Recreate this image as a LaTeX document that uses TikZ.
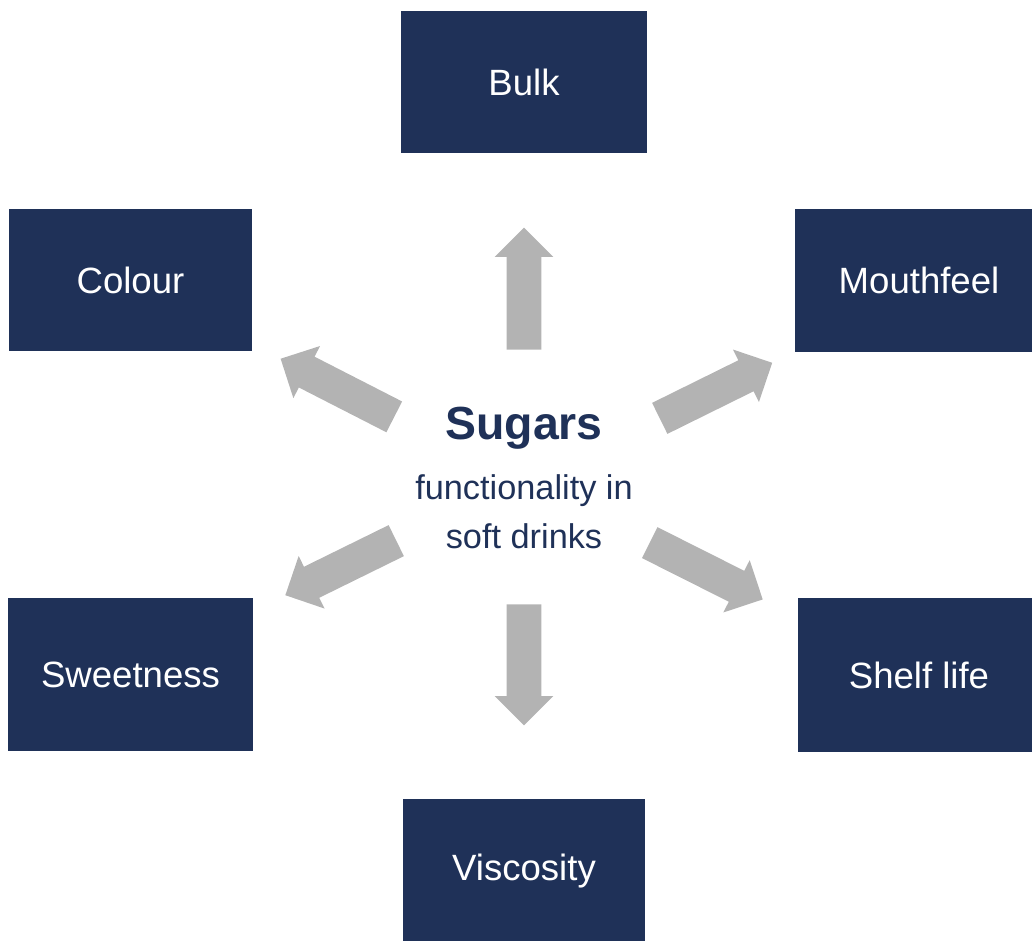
\documentclass[tikz,border=0pt]{standalone}
\usepackage{fontspec}
\setmainfont{Liberation Sans}
\usepackage{tikz}
\usetikzlibrary{shapes.arrows}
\definecolor{navy}{RGB}{31,49,88}
\definecolor{arrowgrey}{RGB}{179,179,179}
\tikzset{
	box/.style={fill=navy, text=white, inner sep=0pt, font=\fontsize{26}{30}\selectfont},
	grey arrow/.style={single arrow, fill=arrowgrey, inner xsep=0pt, inner ysep=0.425cm, anchor=tail,
		minimum width=1.45cm, single arrow head extend=0.3cm},
	title/.style={text=navy, anchor=base, inner sep=0pt},
}
\begin{document}
\begin{tikzpicture}[x=0.025cm, y=-0.025cm]
	\useasboundingbox (0,0) rectangle (1032,940);
	% boxes
	\node[box, minimum width=6.15cm, minimum height=3.55cm] (bulk) at (524,82) {Bulk};
	\node[box, minimum width=6.075cm, minimum height=3.55cm] (colour) at (130.5,280) {Colour};
	\node[box, minimum width=6.2cm, minimum height=3.575cm] (mouthfeel) at (919,280.5) {Mouthfeel};
	\node[box, minimum width=6.125cm, minimum height=3.825cm] (sweetness) at (130.5,674.5) {Sweetness};
	\node[box, minimum width=6.05cm, minimum height=3.85cm] (shelflife) at (919,675) {Shelf life};
	\node[box, minimum width=6.05cm, minimum height=3.6cm] (viscosity) at (524,871) {Viscosity};
	% centre text
	\node[title, font=\bfseries\fontsize{33}{40}\selectfont] (sugars) at (524,439) {Sugars};
	\node[title, font=\fontsize{24.4}{35}\selectfont] (func) at (524,499) {functionality in};
	\node[title, font=\fontsize{24.4}{35}\selectfont] (drinks) at (524,548) {soft drinks};
	% arrows
	\node[grey arrow, minimum height=3.05cm, rotate=90] (toBulk) at (524,350) {};
	\node[grey arrow, minimum height=3.025cm, rotate=-90] (toViscosity) at (524,604) {};
	\node[grey arrow, minimum height=3.19cm, rotate=152.9] (toColour) at (394.5,417) {};
	\node[grey arrow, minimum height=3.135cm, rotate=26.3] (toMouthfeel) at (659.5,418.5) {};
	\node[grey arrow, minimum height=3.09cm, rotate=206.2] (toSweetness) at (396.5,540.5) {};
	\node[grey arrow, minimum height=3.16cm, rotate=-26.7] (toShelflife) at (649.5,542.5) {};
\end{tikzpicture}
\end{document}
